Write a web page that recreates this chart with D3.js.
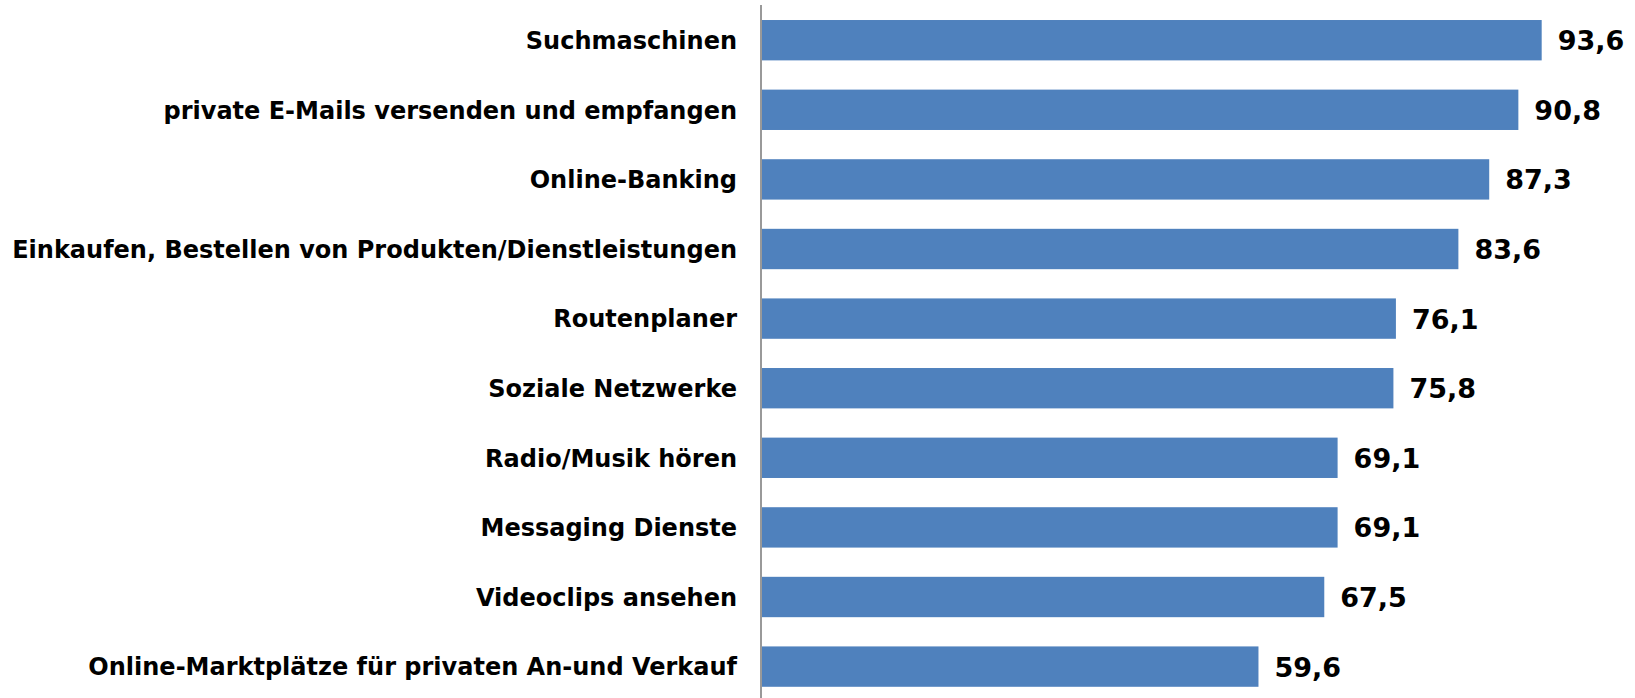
<!DOCTYPE html>
<html><head><meta charset="utf-8">
<script src="https://cdn.jsdelivr.net/npm/d3@7"></script>
<style>body{margin:0;background:#fff}svg{display:block}</style>
</head><body>
<svg id="c" width="1635" height="698"></svg>
<script>
const categories = ["Suchmaschinen","private E-Mails versenden und empfangen","Online-Banking","Einkaufen, Bestellen von Produkten/Dienstleistungen","Routenplaner","Soziale Netzwerke","Radio/Musik hören","Messaging Dienste","Videoclips ansehen","Online-Marktplätze für privaten An-und Verkauf"];
const values = [93.6,90.8,87.3,83.6,76.1,75.8,69.1,69.1,67.5,59.6];
const valueLabels = ["93,6","90,8","87,3","83,6","76,1","75,8","69,1","69,1","67,5","59,6"];

const svg = d3.select("#c");
const x0 = 762;
const x = d3.scaleLinear().domain([0,100]).range([x0, x0 + 833]);
const y = d3.scaleBand().domain(categories).range([5.4, 701.4]).paddingInner(0.42).paddingOuter(0.21);

svg.selectAll("rect.bar").data(values).join("rect")
  .attr("class","bar")
  .attr("x", x(0))
  .attr("y", (d,i)=>y(categories[i]))
  .attr("width", d=>x(d)-x(0))
  .attr("height", y.bandwidth())
  .attr("fill","#4F81BD");

svg.append("line").attr("x1",761).attr("x2",761).attr("y1",5).attr("y2",698)
  .attr("stroke","#999").attr("stroke-width",2);

svg.selectAll("text.cat").data(categories).join("text")
  .attr("class","cat")
  .attr("x", 737)
  .attr("y", d=>y(d)+y.bandwidth()/2)
  .attr("dy","0.37em")
  .attr("text-anchor","end")
  .attr("font-family","DejaVu Sans")
  .attr("font-weight","bold")
  .attr("font-size","24px")
  .attr("fill","#000")
  .text(d=>d);

svg.selectAll("text.val").data(values).join("text")
  .attr("class","val")
  .attr("x", d=>x(d)+16)
  .attr("y", (d,i)=>y(categories[i])+y.bandwidth()/2)
  .attr("dy","0.37em")
  .attr("font-family","DejaVu Sans")
  .attr("font-weight","bold")
  .attr("font-size","27px")
  .attr("fill","#000")
  .text((d,i)=>valueLabels[i]);
</script>
</body></html>
